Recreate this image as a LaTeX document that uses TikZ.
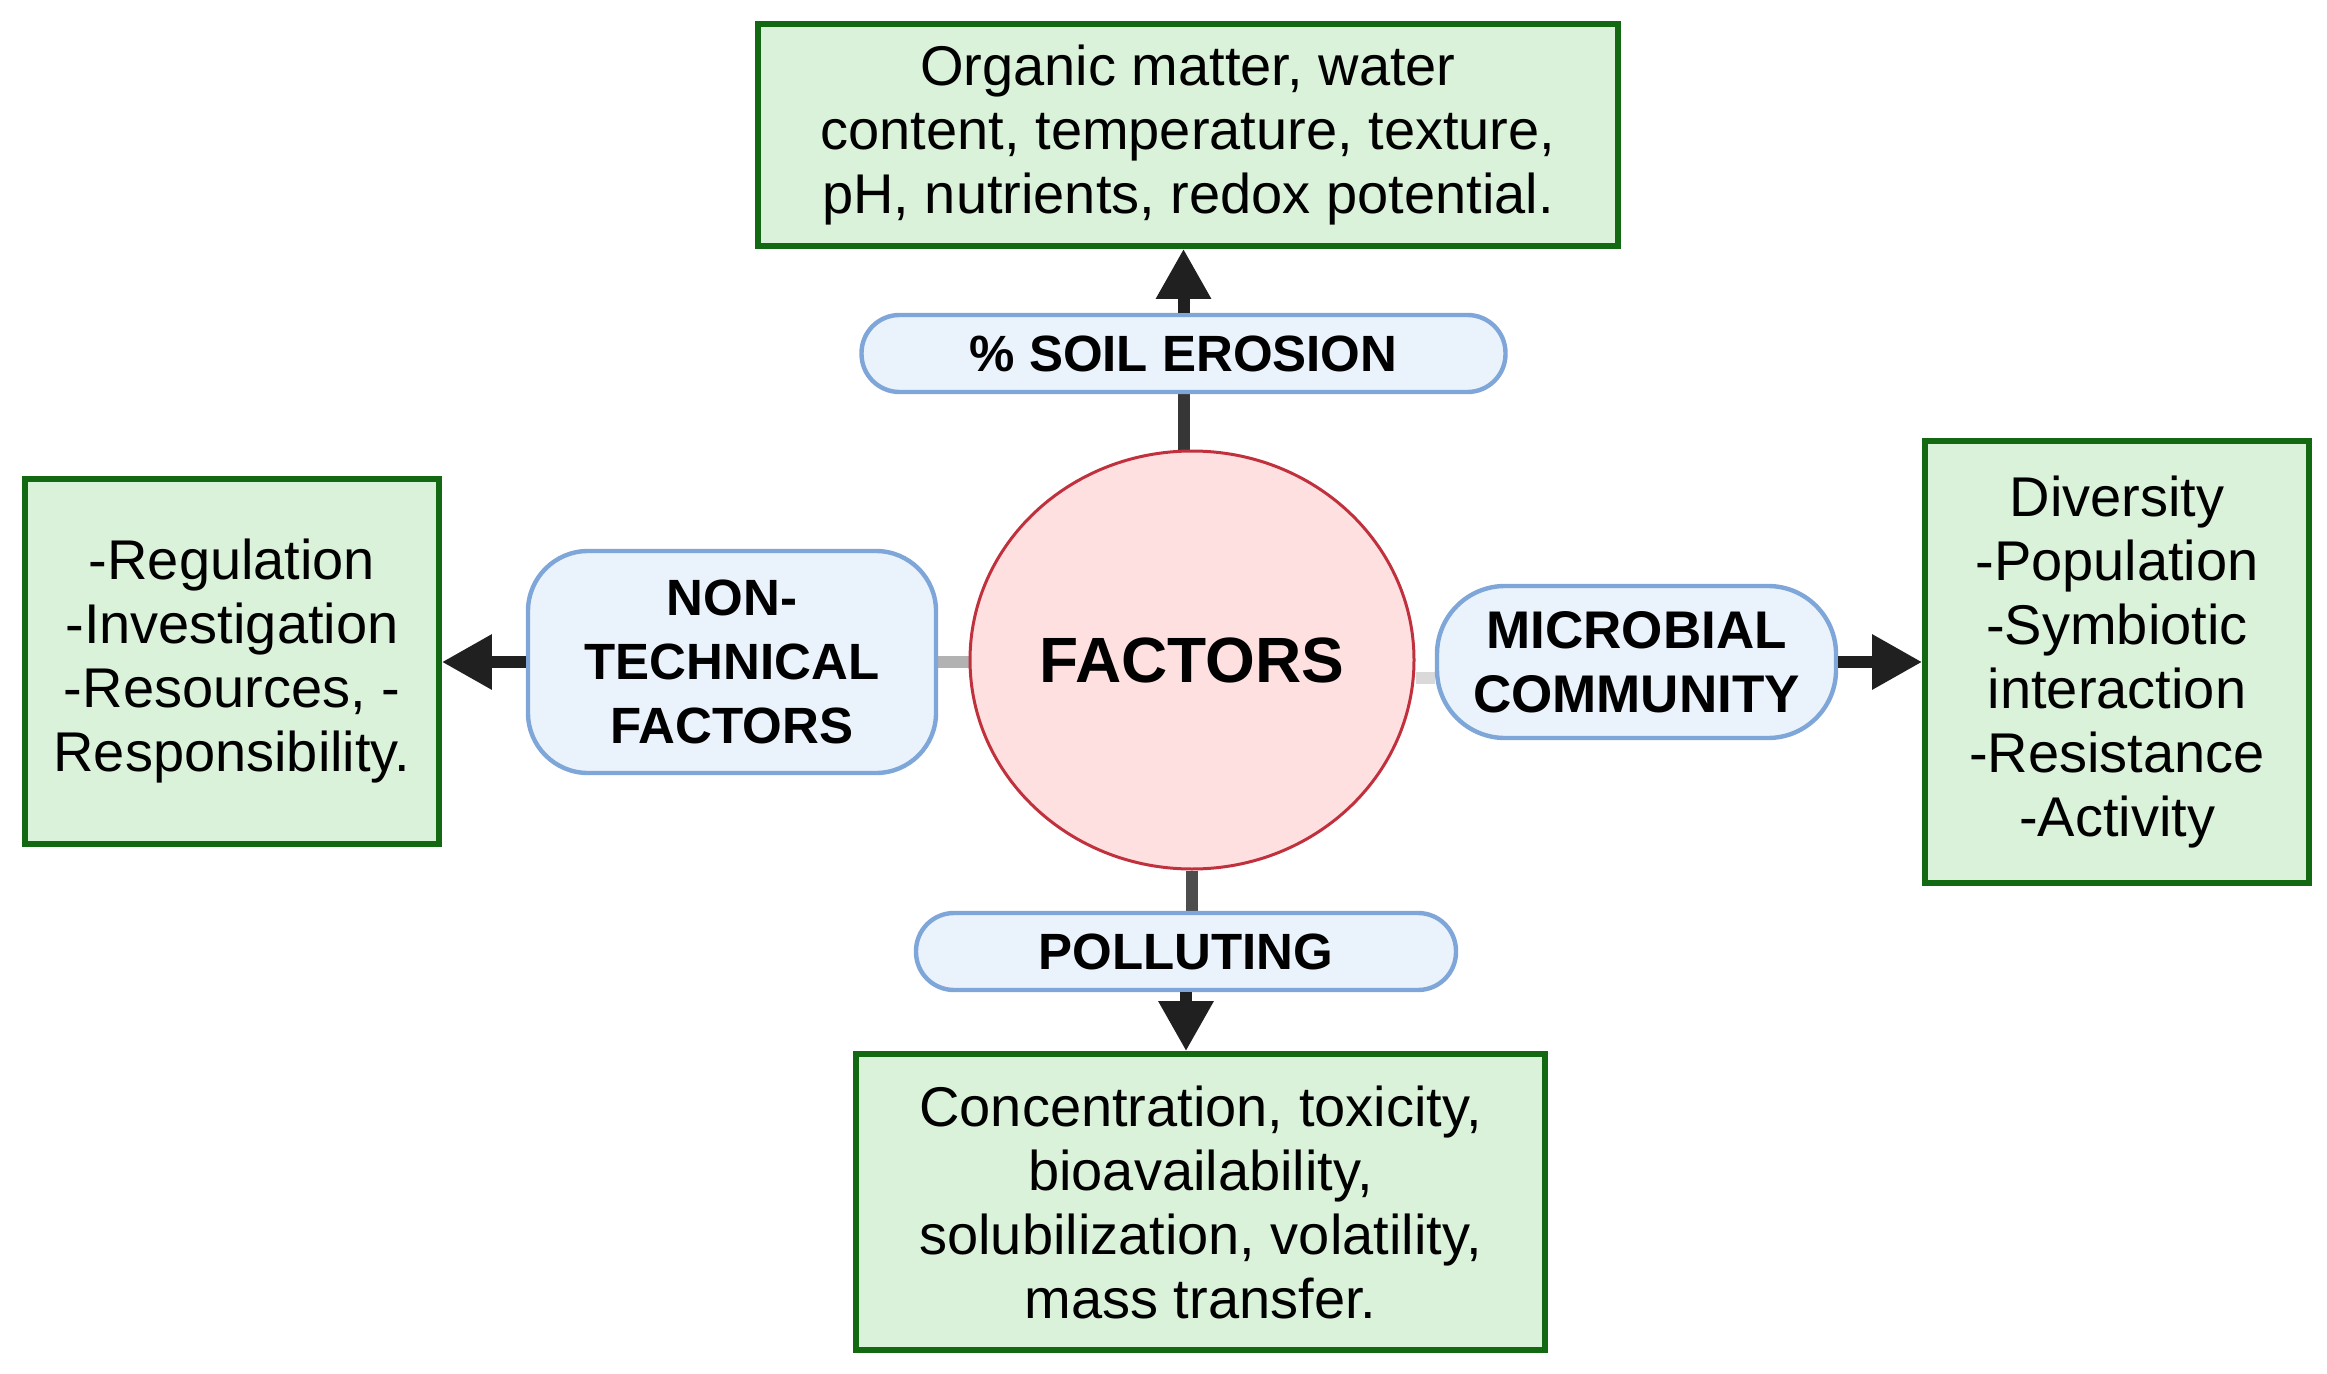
\documentclass[tikz,border=0pt]{standalone}
\usepackage{fontspec}
\setmainfont{Liberation Sans}
\usetikzlibrary{arrows.meta,shapes.geometric,backgrounds}
\definecolor{gfill}{RGB}{217,242,217}
\definecolor{gdraw}{RGB}{18,105,18}
\definecolor{pfill}{RGB}{234,242,251}
\definecolor{pdraw}{RGB}{126,166,216}
\definecolor{cfill}{RGB}{255,224,224}
\definecolor{cdraw}{RGB}{192,49,61}
\definecolor{arr}{RGB}{32,32,32}
\begin{document}
\begin{tikzpicture}[x=0.5pt,y=-0.5pt,
  gbox/.style={draw=gdraw,fill=gfill,line width=2.8pt,inner sep=0pt,align=center,
    font=\fontsize{28}{32}\selectfont},
  pill/.style={draw=pdraw,fill=pfill,line width=2.2pt,inner sep=0pt,align=center,
    font=\fontsize{25.5}{32}\selectfont\bfseries},
  arrowline/.style={draw=arr,line width=6pt,-{Triangle[length=25pt,width=26pt]}},
  link/.style={line width=6pt}]
\useasboundingbox (0,0) rectangle (2327,1374);

\node[gbox,minimum width=430pt,minimum height=111pt] (top) at (1188,135)
  {Organic matter, water\\content, temperature, texture,\\pH, nutrients, redox potential.};
\node[pill,minimum width=322pt,minimum height=38.5pt,rounded corners=19pt] (soil) at (1183.5,353.5)
  {\% SOIL EROSION};
\node[pill,minimum width=204pt,minimum height=111pt,rounded corners=30pt] (nontech) at (732,662)
  {NON-\\TECHNICAL\\FACTORS};
\node[gbox,minimum width=207pt,minimum height=182.5pt] (left) at (232,661.5)
  {-Regulation\\-Investigation\\-Resources, -\\Responsibility.};
\node[ellipse,draw=cdraw,fill=cfill,line width=1.5pt,minimum width=222pt,minimum height=209pt,
  inner sep=0pt,font=\fontsize{32}{38}\selectfont\bfseries] (fac) at (1192,660) {FACTORS};
\node[pill,minimum width=199.5pt,minimum height=76pt,rounded corners=34pt,
  font=\fontsize{26.5}{32}\selectfont\bfseries] (micro) at (1636.5,662)
  {MICROBIAL\\COMMUNITY};
\node[gbox,minimum width=192pt,minimum height=221pt] (right) at (2117,662)
  {Diversity\\-Population\\-Symbiotic\\interaction\\-Resistance\\-Activity};
\node[pill,minimum width=270pt,minimum height=38.5pt,rounded corners=19pt] (poll) at (1186,951.5)
  {POLLUTING};
\node[gbox,minimum width=344.5pt,minimum height=148pt] (bot) at (1200.5,1202)
  {Concentration, toxicity,\\bioavailability,\\solubilization, volatility,\\mass transfer.};

\begin{scope}[on background layer]
\draw[link,draw=arr!90] (soil.south) -- (soil.south |- fac.north);
\draw[link,draw=gray!60] (nontech.east) -- (nontech.east -| fac.west);
\draw[link,draw=gray!30] ([yshift=-8pt]micro.west) -- ([yshift=-8pt]micro.west -| fac.east);
\draw[link,draw=arr!80] (fac.south) -- (fac.south |- poll.north);
\end{scope}
\draw[arrowline] (soil.north) -- (soil.north |- top.south);
\draw[arrowline] (nontech.west) -- (nontech.west -| left.east);
\draw[arrowline] (micro.east) -- (micro.east -| right.west);
\draw[arrowline] (poll.south) -- (poll.south |- bot.north);
\end{tikzpicture}
\end{document}
